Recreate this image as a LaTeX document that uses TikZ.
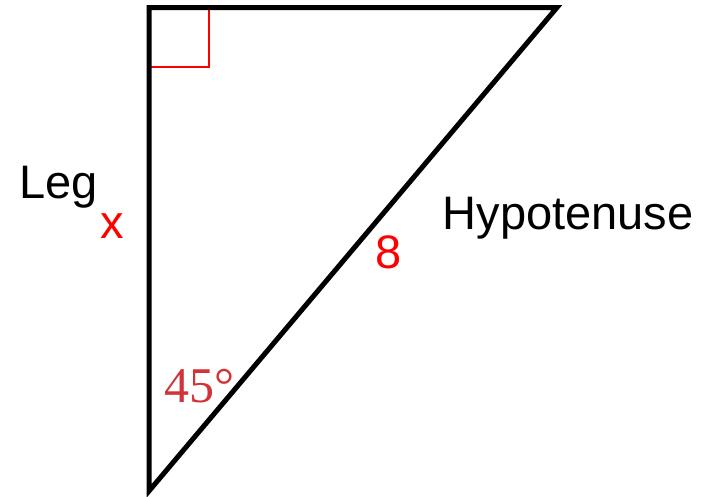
\documentclass[tikz,border=0pt]{standalone}
\usepackage{fontspec}
\setmainfont{Liberation Sans}
\newfontfamily\numserif{Liberation Serif}
\definecolor{angred}{RGB}{209,52,56}
\tikzset{
  side/.style={line width=5pt, line join=miter, miter limit=10},
  lbl/.style={inner sep=0pt, anchor=base, font=\fontsize{47}{56}\selectfont},
  redlbl/.style={lbl, text=red},
  rightmark/.style={red, line width=2pt}
}
\begin{document}
\begin{tikzpicture}[x=1pt,y=-1pt]
\useasboundingbox (0,0) rectangle (712,496);
\coordinate (A) at (149,7.5);
\coordinate (B) at (557,7.5);
\coordinate (C) at (149,491);
\coordinate (R1) at (149,66.5);
\coordinate (R2) at (208.5,66.5);
\coordinate (R3) at (208.5,7.5);
\draw[rightmark] (R1) -- (R2) -- (R3);
\draw[side] (A) -- (B) -- (C) -- cycle;
\node[lbl] (leg) at (58.5,198) {Leg};
\node[redlbl] (x) at (112,238) {x};
\node[lbl] (hyp) at (568,229) {Hypotenuse};
\node[redlbl] (eight) at (388.5,268) {8};
\node[inner sep=0pt, anchor=base, text=angred, font=\numserif\fontsize{50}{58}\selectfont] (ang) at (199,402) {45°};
\end{tikzpicture}
\end{document}
